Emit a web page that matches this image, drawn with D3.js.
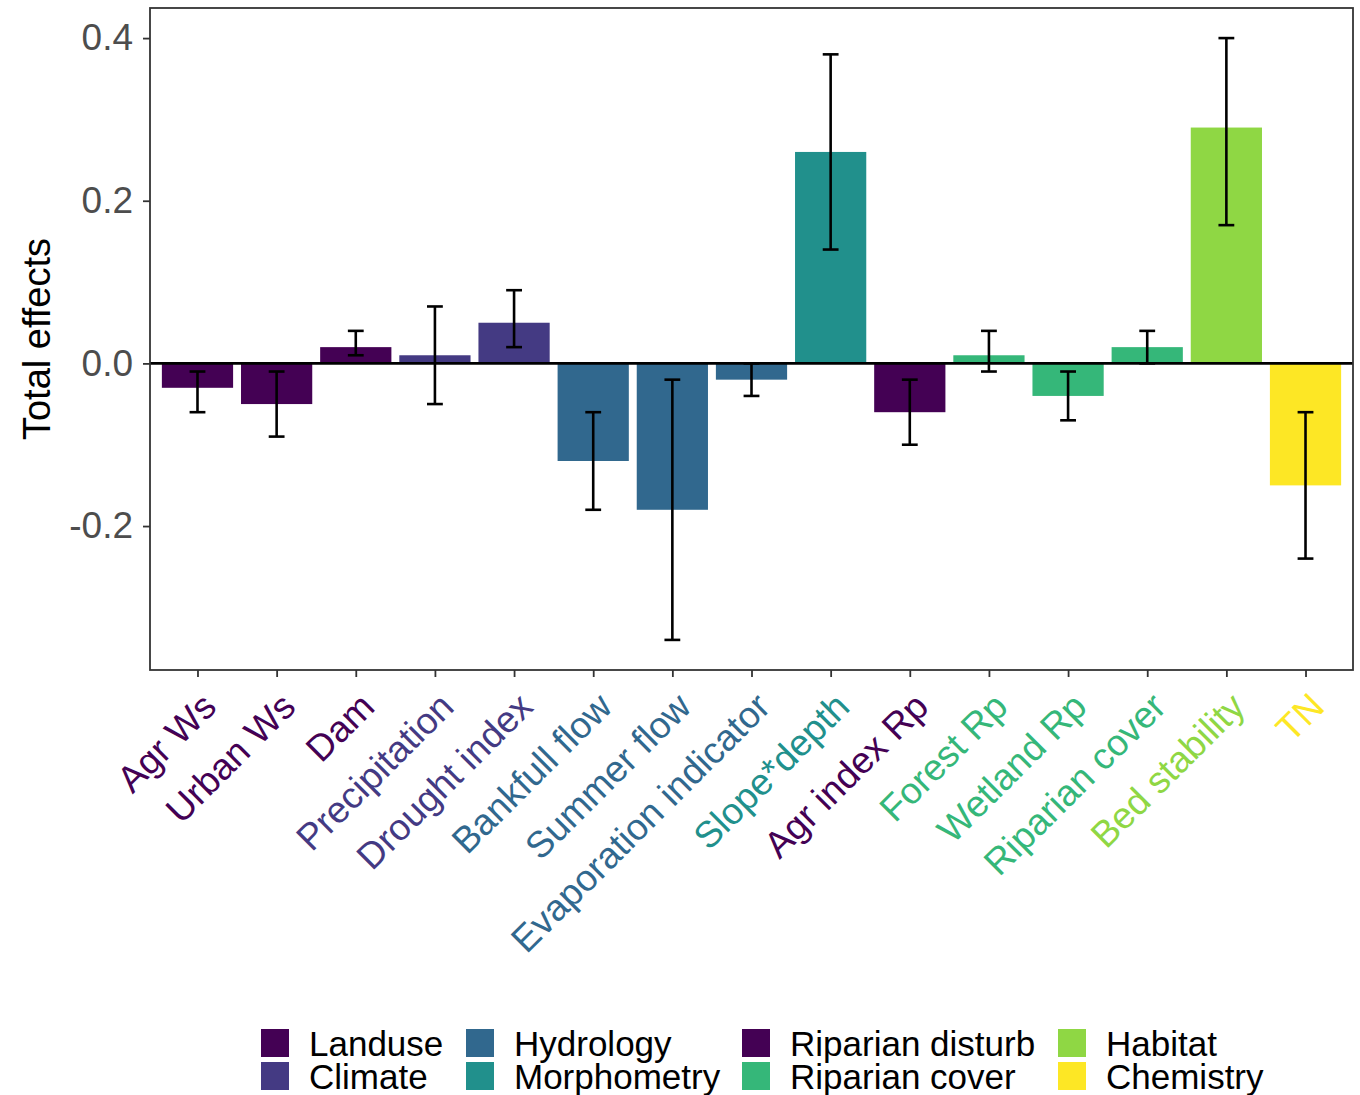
<!DOCTYPE html>
<html>
<head>
<meta charset="utf-8">
<script src="https://cdn.jsdelivr.net/npm/d3@7"></script>
<style>
  body { margin: 0; background: #fff; }
  svg { font-family: "Liberation Sans", Arial, sans-serif; }
</style>
</head>
<body>
<svg id="chart" width="1360" height="1095"></svg>
<script>
// chart values
const categories = ['Agr Ws', 'Urban Ws', 'Dam', 'Precipitation', 'Drought index', 'Bankfull flow',
  'Summer flow', 'Evaporation indicator', 'Slope*depth', 'Agr index Rp', 'Forest Rp', 'Wetland Rp',
  'Riparian cover', 'Bed stability', 'TN'];
const effects = [-0.03, -0.05, 0.02, 0.01, 0.05, -0.12, -0.18, -0.02, 0.26, -0.06, 0.01, -0.04, 0.02, 0.29, -0.15];
const lower = [-0.06, -0.09, 0.01, -0.05, 0.02, -0.18, -0.34, -0.04, 0.14, -0.10, -0.01, -0.07, 0.00, 0.17, -0.24];
const upper = [-0.01, -0.01, 0.04, 0.07, 0.09, -0.06, -0.02, 0.00, 0.38, -0.02, 0.04, -0.01, 0.04, 0.40, -0.06];
const groupOf = ['Landuse', 'Landuse', 'Landuse', 'Climate', 'Climate', 'Hydrology', 'Hydrology', 'Hydrology',
  'Morphometry', 'Riparian disturb', 'Riparian cover', 'Riparian cover', 'Riparian cover', 'Habitat', 'Chemistry'];
const groups = ['Landuse', 'Climate', 'Hydrology', 'Morphometry', 'Riparian disturb', 'Riparian cover', 'Habitat', 'Chemistry'];
const groupColors = ['#440154', '#443A83', '#31688E', '#21908C', '#440154', '#35B779', '#8FD744', '#FDE725'];
const yTicks = [-0.2, 0.0, 0.2, 0.4];

const rows = categories.map((c, i) => ({ name: c, value: effects[i], lo: lower[i], hi: upper[i], group: groupOf[i] }));

const svg = d3.select('#chart');
const panel = { left: 150, right: 1353, top: 8, bottom: 670 };

const color = d3.scaleOrdinal().domain(groups).range(groupColors);

const x = d3.scalePoint().domain(categories).range([panel.left, panel.right]).padding(0.6);
const step = x.step();

const yMin = d3.min(lower), yMax = d3.max(upper);
const pad = (yMax - yMin) * 0.05;
const y = d3.scaleLinear().domain([yMin - pad, yMax + pad]).range([panel.bottom, panel.top]);

// bars
svg.append('g')
  .selectAll('rect')
  .data(rows)
  .join('rect')
  .attr('x', d => x(d.name) - step * 0.45)
  .attr('width', step * 0.9)
  .attr('y', d => y(Math.max(0, d.value)))
  .attr('height', d => Math.abs(y(d.value) - y(0)))
  .attr('fill', d => color(d.group));

// zero line
svg.append('line')
  .attr('x1', panel.left).attr('x2', panel.right)
  .attr('y1', y(0)).attr('y2', y(0))
  .attr('stroke', '#000').attr('stroke-width', 2.6);

// error bars
const err = svg.append('g').attr('stroke', '#000').attr('stroke-width', 2.6);
const capW = step * 0.1;
rows.forEach(d => {
  const cx = x(d.name);
  err.append('line').attr('x1', cx).attr('x2', cx).attr('y1', y(d.lo)).attr('y2', y(d.hi));
  err.append('line').attr('x1', cx - capW).attr('x2', cx + capW).attr('y1', y(d.lo)).attr('y2', y(d.lo));
  err.append('line').attr('x1', cx - capW).attr('x2', cx + capW).attr('y1', y(d.hi)).attr('y2', y(d.hi));
});

// panel border
svg.append('rect')
  .attr('x', panel.left).attr('y', panel.top)
  .attr('width', panel.right - panel.left).attr('height', panel.bottom - panel.top)
  .attr('fill', 'none').attr('stroke', '#333').attr('stroke-width', 1.8);

// y axis
const yAxis = svg.append('g')
  .attr('transform', `translate(${panel.left},0)`)
  .call(d3.axisLeft(y).tickValues(yTicks).tickFormat(d3.format('.1f')).tickSize(7).tickPadding(10));
yAxis.select('.domain').remove();
yAxis.selectAll('line').attr('stroke', '#333').attr('stroke-width', 1.8);
yAxis.selectAll('text')
  .attr('fill', '#4D4D4D')
  .style('font-size', '37px')
  .text(d => d3.format('.1f')(d).replace('−', '-'));

// x axis
const xAxis = svg.append('g')
  .attr('transform', `translate(0,${panel.bottom})`)
  .call(d3.axisBottom(x).tickSize(7).tickFormat(''));
xAxis.select('.domain').remove();
xAxis.selectAll('line').attr('stroke', '#333').attr('stroke-width', 1.8);

svg.append('g')
  .selectAll('text')
  .data(rows)
  .join('text')
  .attr('transform', d => `translate(${x(d.name) + 2},${panel.bottom + 20}) rotate(-45)`)
  .attr('text-anchor', 'end')
  .attr('dy', '0.72em')
  .style('font-size', '37px')
  .attr('fill', d => color(d.group))
  .text(d => d.name);

// y title
svg.append('text')
  .attr('transform', `translate(50,${(panel.top + panel.bottom) / 2}) rotate(-90)`)
  .attr('text-anchor', 'middle')
  .style('font-size', '38px')
  .attr('fill', '#000')
  .text('Total effects');

// legend
const legCols = [261, 466, 742, 1058];
const legRows = [1029, 1062];
const legend = svg.append('g');
groups.forEach((g, i) => {
  const col = Math.floor(i / 2), row = i % 2;
  const item = legend.append('g').attr('transform', `translate(${legCols[col]},${legRows[row]})`);
  item.append('rect').attr('width', 28).attr('height', 28).attr('fill', groupColors[i]);
  item.append('text')
    .attr('x', 48).attr('y', 14).attr('dy', '0.36em')
    .style('font-size', '35px')
    .attr('fill', '#000')
    .text(g);
});
</script>
</body>
</html>
